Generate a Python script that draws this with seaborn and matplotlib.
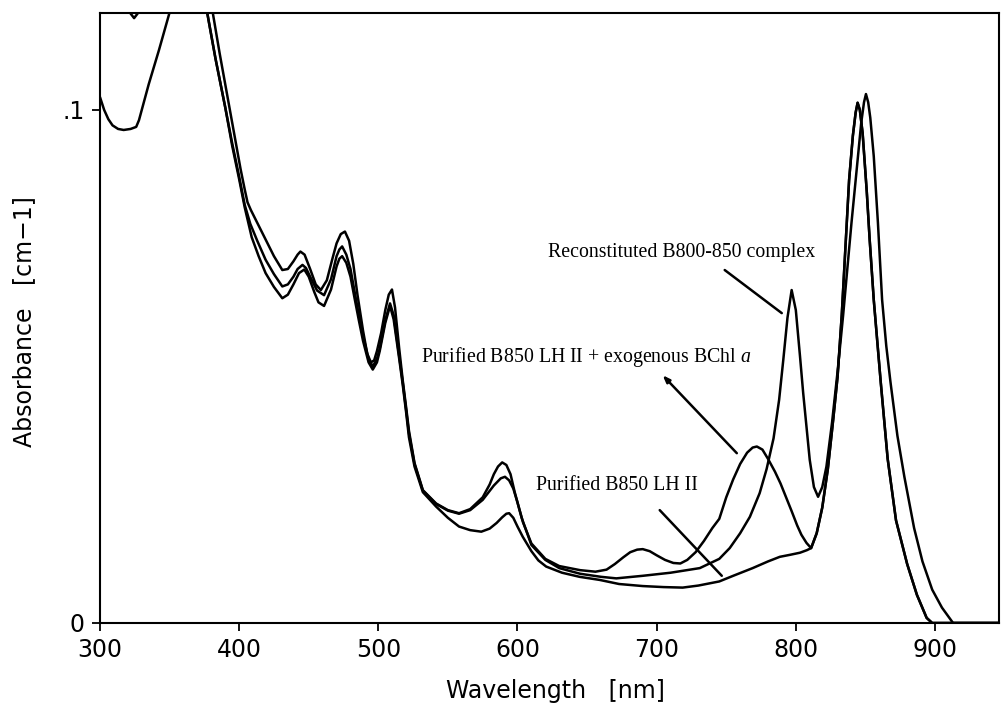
import numpy as np
import pandas as pd
import matplotlib
matplotlib.use("Agg")
import matplotlib.pyplot as plt
import seaborn as sns

# ---------------- data ----------------
wl_a = [300, 370, 373, 377, 383, 390, 395, 400, 404, 408, 413, 419, 425, 431, 435, 439, 442, 445.5, 448, 451,
        456, 461, 466, 470, 472, 474, 477, 480, 483, 486, 489, 493, 496, 499, 501, 505, 508.4, 511, 515, 517.5,
        520, 522, 526, 532, 541.5, 550, 558, 566, 575, 583, 588, 591, 594, 597, 600, 603, 610, 620, 630, 645,
        660, 671, 690, 710, 731, 745, 752.5, 760, 767, 774, 779, 784, 788, 791, 794, 797, 800, 803, 805.3, 810,
        813, 816, 819, 822, 826, 830, 834, 837, 840, 843.6, 847, 849, 850.4, 852, 853.5, 856, 859, 862, 865,
        868, 873, 878, 885, 891, 898, 905, 913, 946]
abs_a = [0.140, 0.140, 0.132, 0.119, 0.110, 0.1005, 0.0935, 0.0870, 0.0815, 0.0778, 0.0745, 0.0708, 0.0680,
         0.0656, 0.0660, 0.0675, 0.0690, 0.0698, 0.0692, 0.0675, 0.0648, 0.0639, 0.0670, 0.0715, 0.0728, 0.0734,
         0.0718, 0.0690, 0.0645, 0.0600, 0.0560, 0.0515, 0.0500, 0.0515, 0.0535, 0.0590, 0.0623, 0.0600, 0.0520,
         0.0470, 0.0415, 0.0370, 0.0310, 0.0258, 0.0232, 0.0219, 0.0213, 0.0220, 0.0240, 0.0268, 0.0282, 0.0285,
         0.0278, 0.0262, 0.0235, 0.0205, 0.0152, 0.0123, 0.0107, 0.0096, 0.0090, 0.0087, 0.0092, 0.0098, 0.0107,
         0.0125, 0.0146, 0.0175, 0.0207, 0.0253, 0.0300, 0.0360, 0.0435, 0.0513, 0.0595, 0.0649, 0.0610, 0.0520,
         0.0448, 0.0318, 0.0265, 0.0246, 0.0265, 0.0305, 0.0390, 0.0490, 0.0600, 0.0690, 0.0780, 0.0880, 0.0975,
         0.1015, 0.1031, 0.1015, 0.0985, 0.0910, 0.0780, 0.0630, 0.0540, 0.0470, 0.0365, 0.0285, 0.0185, 0.0120,
         0.0065, 0.0030, 0.0, 0.0]

wl_b = [300, 310, 316, 320, 324.5, 329, 334, 345, 372, 376, 381, 386, 392, 397, 401, 404, 406, 408.4, 413, 419,
        425, 431, 435, 439, 442, 444, 447, 451, 455, 458.7, 463, 467, 470, 473, 476, 479, 482, 485, 489, 492,
        494.7, 497, 499, 502, 505, 507.5, 509.8, 512, 515, 517.5, 520, 522, 526, 532, 541.5, 550, 558, 566, 575,
        580, 583, 586, 589, 592, 595, 598, 601, 604, 610, 620, 630, 645, 656, 664, 670, 676, 681, 686, 690, 695,
        700, 706, 712, 717, 722, 728, 734, 740, 745, 750, 755, 760, 765, 769, 772, 776, 780, 785, 789, 793, 797,
        801, 804, 807.7, 811, 815, 819, 823, 827, 830, 833, 835, 838.3, 841, 843, 844.4, 846, 848, 851, 853, 856,
        861, 866, 872, 880, 887, 894, 898, 946]
abs_b = [0.135, 0.130, 0.124, 0.1195, 0.1179, 0.1195, 0.125, 0.135, 0.135, 0.128, 0.119, 0.111, 0.102, 0.0945,
         0.0885, 0.0845, 0.0820, 0.0805, 0.0780, 0.0747, 0.0715, 0.0688, 0.0690, 0.0705, 0.0718, 0.0724, 0.0718,
         0.0690, 0.0660, 0.0649, 0.0668, 0.0710, 0.0740, 0.0758, 0.0763, 0.0745, 0.0700, 0.0640, 0.0570, 0.0525,
         0.0508, 0.0512, 0.0530, 0.0565, 0.0610, 0.0640, 0.0650, 0.0615, 0.0535, 0.0474, 0.0420, 0.0375, 0.0312,
         0.0259, 0.0233, 0.0220, 0.0214, 0.0222, 0.0245, 0.0270, 0.0290, 0.0305, 0.0313, 0.0308, 0.0290, 0.0255,
         0.0225, 0.0196, 0.0155, 0.0125, 0.0111, 0.0103, 0.0100, 0.0104, 0.0115, 0.0128, 0.0138, 0.0143, 0.0144,
         0.0140, 0.0132, 0.0123, 0.0117, 0.0116, 0.0123, 0.0138, 0.0160, 0.0185, 0.0203, 0.0245, 0.0280, 0.0310,
         0.0332, 0.0342, 0.0344, 0.0338, 0.0320, 0.0295, 0.0272, 0.0245, 0.0218, 0.0190, 0.0172, 0.0156, 0.0146,
         0.0175, 0.0225, 0.0300, 0.0400, 0.0480, 0.0600, 0.0700, 0.0864, 0.0950, 0.0995, 0.1014, 0.1000, 0.0955,
         0.0840, 0.0750, 0.0630, 0.0470, 0.0320, 0.0200, 0.0115, 0.0055, 0.0010, 0.0, 0.0]

wl_c = [300, 303, 306, 309, 313, 317, 322, 326, 328, 331, 335, 342.4, 350, 356, 365, 372, 377, 383, 390, 395,
        400, 404, 409, 414, 419, 425, 431, 435, 439, 443, 446.8, 450, 454, 457, 461, 466, 470, 472, 474, 477,
        480, 483, 486, 489, 493, 496, 499, 501, 505, 508.4, 511, 515, 517.5, 520, 522, 526, 532, 541.5, 550,
        558, 566, 574, 580, 585, 589, 592, 594, 597, 600, 603.8, 610, 615, 620.6, 632, 644.6, 659, 673, 690, 705,
        718.7, 730, 745, 755, 769, 780, 788.5, 796, 803, 808, 811, 815, 819, 823, 827, 830, 833, 835, 838.3, 841,
        843, 844.4, 846, 848, 851, 853, 856, 861, 866, 872, 880, 887, 894, 898, 946]
abs_c = [0.1025, 0.1000, 0.0982, 0.0970, 0.0963, 0.0961, 0.0963, 0.0967, 0.0980, 0.1010, 0.1050, 0.1117, 0.1190,
         0.1260, 0.1320, 0.1300, 0.1190, 0.1100, 0.1005, 0.0930, 0.0865, 0.0810, 0.0752, 0.0715, 0.0682, 0.0655,
         0.0633, 0.0640, 0.0660, 0.0682, 0.0689, 0.0675, 0.0645, 0.0625, 0.0618, 0.0650, 0.0695, 0.0710, 0.0715,
         0.0702, 0.0675, 0.0632, 0.0590, 0.0550, 0.0508, 0.0494, 0.0508, 0.0530, 0.0585, 0.0618, 0.0592, 0.0515,
         0.0465, 0.0410, 0.0362, 0.0305, 0.0255, 0.0227, 0.0205, 0.0188, 0.0181, 0.0178, 0.0184, 0.0195, 0.0206,
         0.0213, 0.0214, 0.0205, 0.0188, 0.0168, 0.0140, 0.0122, 0.0110, 0.0098, 0.0090, 0.0084, 0.0076, 0.0072,
         0.0070, 0.0069, 0.0073, 0.0081, 0.0092, 0.0107, 0.0120, 0.0129, 0.0133, 0.0137, 0.0142, 0.0146, 0.0175,
         0.0225, 0.0300, 0.0400, 0.0480, 0.0600, 0.0700, 0.0864, 0.0950, 0.0995, 0.1014, 0.1000, 0.0955, 0.0840,
         0.0750, 0.0630, 0.0470, 0.0320, 0.0200, 0.0115, 0.0055, 0.0010, 0.0, 0.0]

x_ticks = [300, 400, 500, 600, 700, 800, 900]
x_ticklabels = ["300", "400", "500", "600", "700", "800", "900"]
y_ticks = [0.0, 0.1]
y_ticklabels = ["0", ".1"]

label_a = "Reconstituted B800-850 complex"
label_b = "Purified B850 LH II + exogenous BChl $a$"
label_c = "Purified B850 LH II"

# ---------------- style ----------------
sns.set_style("ticks")
plt.rcParams["font.family"] = ["DejaVu Sans"]
plt.rcParams["text.color"] = "black"
plt.rcParams["axes.labelcolor"] = "black"
plt.rcParams["xtick.color"] = "black"
plt.rcParams["ytick.color"] = "black"
plt.rcParams["mathtext.fontset"] = "custom"
plt.rcParams["mathtext.rm"] = "Liberation Serif"
plt.rcParams["mathtext.it"] = "Liberation Serif:italic"

fig = plt.figure(figsize=(10.04, 7.07), dpi=100)
ax = fig.add_axes([100 / 1004, 84 / 707, 899 / 1004, 610 / 707])

frames = {
    "A": pd.DataFrame({"wl": wl_a, "absb": abs_a}),
    "B": pd.DataFrame({"wl": wl_b, "absb": abs_b}),
    "C": pd.DataFrame({"wl": wl_c, "absb": abs_c}),
}
for key, df in frames.items():
    sns.lineplot(data=df, x="wl", y="absb", ax=ax, color="black", linewidth=1.8,
                 estimator=None, sort=False, solid_capstyle="round", solid_joinstyle="round")

ax.set_xlim(300, 946)
ax.set_ylim(0, 0.1189)
ax.set_xticks(x_ticks)
ax.set_xticklabels(x_ticklabels)
ax.set_yticks(y_ticks)
ax.set_yticklabels(y_ticklabels)
ax.set_xlabel("")
ax.set_ylabel("")
ax.tick_params(direction="out", length=6, width=1.3, labelsize=17, pad=5,
               colors="black", labelcolor="black")
for sp in ax.spines.values():
    sp.set_visible(True)
    sp.set_linewidth(1.5)
    sp.set_color("black")

fig.text(555 / 1004, 1 - 698 / 707, "Wavelength   [nm]", ha="center", va="baseline",
         fontsize=17, color="black")
fig.text(24 / 1004, 1 - 322 / 707, "Absorbance   [cm\u22121]", ha="center", va="center",
         rotation=90, fontsize=17, color="black")

serif = dict(family="Liberation Serif", fontsize=14.3, color="black")
ax.text(621.6, 0.0714, label_a, ha="left", va="baseline", **serif)
ax.text(530.7, 0.0509, label_b, ha="left", va="baseline", **serif)
ax.text(613.4, 0.0259, label_c, ha="left", va="baseline", **serif)

line_kw = dict(arrowstyle="-", lw=1.8, color="black", shrinkA=0, shrinkB=0)
ax.annotate("", xy=(789.9, 0.0604), xytext=(748.9, 0.0688), arrowprops=line_kw)
ax.annotate("", xy=(704.3, 0.0483), xytext=(757.6, 0.0331),
            arrowprops=dict(arrowstyle="-|>,head_length=0.4,head_width=0.15", lw=1.8, color="black",
                            shrinkA=0, shrinkB=0))
ax.annotate("", xy=(746.8, 0.0092), xytext=(702.2, 0.0220), arrowprops=line_kw)

fig.savefig("out.png", dpi=100)
